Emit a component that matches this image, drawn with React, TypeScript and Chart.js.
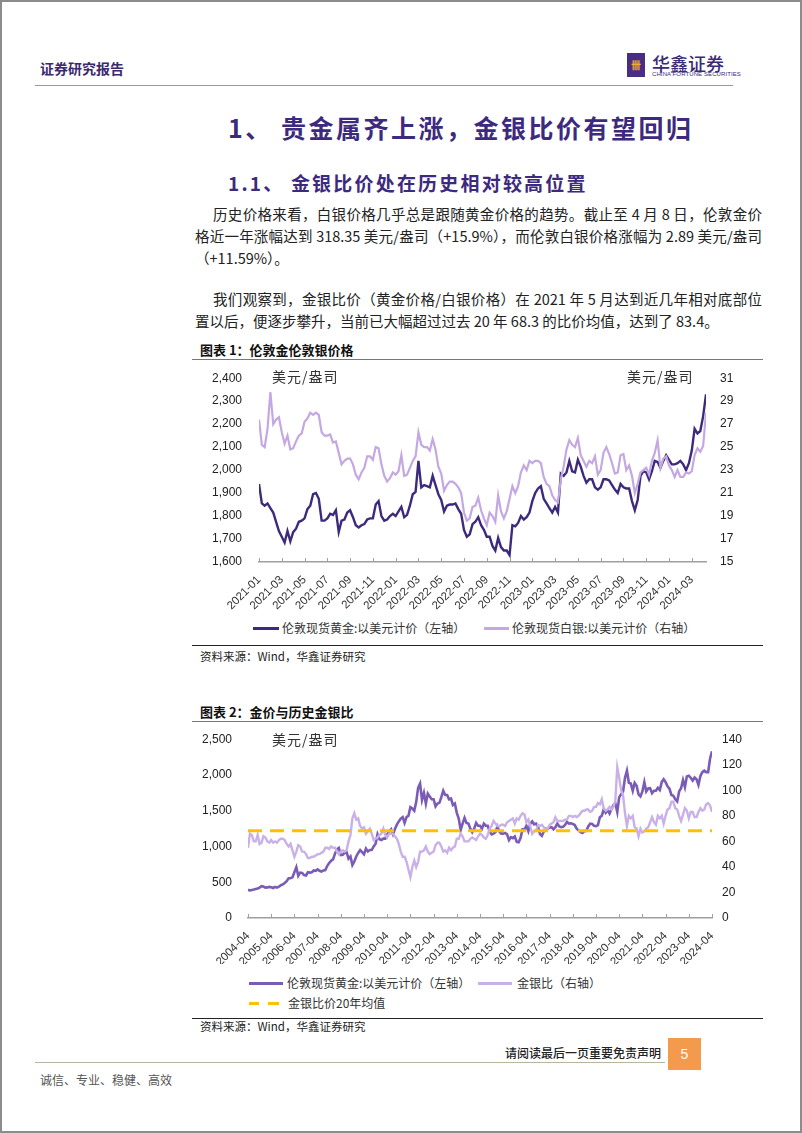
import React, { useEffect, useRef } from 'react';
import { Chart, registerables } from 'chart.js';
Chart.register(...registerables);

const CJK = '"Noto Sans CJK SC", "Noto Sans", sans-serif';
const LATIN = '"Liberation Sans", Arial, sans-serif';

// ---------- Chart 1: weekly (4 per month), 2021-01 .. 2024-04-08 ----------
const X1_TICKS = ['2021-01', '2021-03', '2021-05', '2021-07', '2021-09', '2021-11', '2022-01', '2022-03', '2022-05', '2022-07', '2022-09', '2022-11', '2023-01', '2023-03', '2023-05', '2023-07', '2023-09', '2023-11', '2024-01', '2024-03'];
const GOLD_W = [
  1940, 1855, 1845, 1855, 1835, 1815, 1775, 1735, 1710, 1685, 1735, 1690,
  1730, 1745, 1775, 1780, 1790, 1830, 1845, 1895, 1900, 1875, 1780, 1780,
  1790, 1810, 1805, 1825, 1730, 1780, 1785, 1815, 1825, 1795, 1760, 1750,
  1760, 1765, 1785, 1790, 1790, 1850, 1865, 1800, 1780, 1785, 1800, 1810,
  1800, 1820, 1840, 1795, 1805, 1845, 1895, 1905, 2040, 1925, 1935, 1930,
  1925, 1975, 1935, 1895, 1870, 1820, 1845, 1850, 1850, 1855, 1830, 1810,
  1740, 1710, 1720, 1765, 1775, 1795, 1760, 1740, 1710, 1710, 1670, 1650,
  1705, 1665, 1650, 1650, 1630, 1760, 1755, 1770, 1800, 1785, 1795, 1815,
  1865, 1900, 1920, 1930, 1875, 1855, 1835, 1815, 1840, 1815, 1985, 1975,
  1990, 2040, 1995, 1990, 2045, 2015, 1975, 1945, 1960, 1960, 1925, 1915,
  1925, 1960, 1960, 1955, 1935, 1915, 1900, 1940, 1925, 1920, 1920, 1865,
  1825, 1870, 1975, 1995, 1990, 1960, 1995, 2040, 2035, 2010, 2040, 2065,
  2045, 2025, 2025, 2030, 2040, 2025, 2000, 2030, 2085, 2180, 2160, 2170,
  2235, 2330,
];
const SILVER_W = [
  27.4, 25.2, 25.0, 26.6, 29.8, 27.0, 27.4, 27.6, 26.3, 25.3, 26.0, 24.8,
  24.9, 25.5, 26.0, 26.2, 27.2, 27.5, 28.0, 27.8, 28.0, 27.8, 26.3, 26.0,
  26.0, 26.1, 25.4, 25.5, 24.5, 23.5, 23.8, 24.0, 24.0, 23.5, 22.6, 22.2,
  22.8, 23.2, 24.2, 24.2, 23.9, 25.0, 24.9, 23.5, 22.5, 22.0, 22.3, 22.8,
  22.6, 22.9, 24.3, 22.5, 22.6, 23.2, 23.8, 24.2, 26.3, 25.2, 25.0, 25.0,
  24.7, 25.7, 24.8, 23.3, 22.7, 21.2, 21.7, 22.0, 22.0, 21.8, 21.5, 21.0,
  19.3, 18.6, 18.8, 19.8, 19.9, 20.6, 19.5, 18.8, 18.2, 19.3, 19.0, 18.5,
  20.8, 19.4, 18.8, 19.4, 20.5, 21.6, 21.0, 21.6, 22.8, 23.4, 23.0, 23.8,
  23.6, 23.8, 23.8, 23.6, 22.4, 21.8, 21.6, 20.8, 20.4, 20.2, 22.2, 23.3,
  24.8, 25.6, 25.2, 25.0, 25.8, 24.3, 23.8, 23.3, 23.8, 23.6, 24.2, 22.6,
  23.0, 24.5, 25.0, 24.4, 23.6, 22.7, 22.8, 24.3, 24.4, 23.0, 23.4, 22.5,
  21.0, 21.8, 22.8, 23.0, 23.2, 22.6, 23.8, 24.5, 25.6, 23.2, 24.0, 24.2,
  23.4, 23.0, 22.4, 23.0, 22.4, 22.4, 22.8, 22.7, 22.9, 24.3, 24.9, 24.6,
  25.1, 28.0,
];

// ---------- Chart 2: monthly, 2004-04 .. 2024-04 ----------
const X2_TICKS = ['2004-04', '2005-04', '2006-04', '2007-04', '2008-04', '2009-04', '2010-04', '2011-04', '2012-04', '2013-04', '2014-04', '2015-04', '2016-04', '2017-04', '2018-04', '2019-04', '2020-04', '2021-04', '2022-04', '2023-04', '2024-04'];
const GOLD_M = [
  395, 385, 392, 398, 405, 412, 425, 445, 440,
  425, 428, 435, 430, 420, 435, 425, 438, 458, 470, 490, 515,
  555, 555, 570, 640, 710, 590, 635, 630, 600, 595, 640, 635,
  640, 665, 660, 680, 660, 650, 665, 670, 730, 770, 800, 820,
  900, 960, 980, 880, 885, 910, 920, 830, 860, 740, 790, 860,
  910, 950, 920, 890, 970, 930, 950, 950, 1000, 1040, 1170, 1100,
  1090, 1110, 1110, 1170, 1210, 1240, 1170, 1245, 1305, 1350, 1390, 1410,
  1330, 1410, 1430, 1550, 1530, 1500, 1620, 1820, 1880, 1650, 1750, 1600,
  1740, 1700, 1660, 1660, 1560, 1600, 1610, 1690, 1780, 1720, 1720, 1660,
  1670, 1580, 1600, 1470, 1390, 1230, 1320, 1400, 1330, 1320, 1250, 1200,
  1250, 1330, 1290, 1290, 1250, 1320, 1290, 1290, 1210, 1170, 1180, 1200,
  1280, 1210, 1180, 1180, 1190, 1170, 1090, 1130, 1115, 1140, 1065, 1060,
  1120, 1240, 1235, 1290, 1215, 1320, 1350, 1310, 1320, 1275, 1175, 1150,
  1210, 1250, 1245, 1265, 1270, 1240, 1270, 1320, 1280, 1270, 1275, 1300,
  1345, 1320, 1325, 1315, 1300, 1250, 1225, 1200, 1190, 1215, 1220, 1280,
  1320, 1315, 1290, 1285, 1300, 1410, 1430, 1520, 1470, 1510, 1460, 1520,
  1580, 1600, 1480, 1690, 1730, 1770, 1960, 2060, 1890, 1880, 1780, 1890,
  1850, 1730, 1700, 1770, 1900, 1770, 1810, 1815, 1745, 1780, 1780, 1820,
  1790, 1900, 1940, 1900, 1840, 1810, 1720, 1710, 1660, 1630, 1770, 1815,
  1930, 1830, 1980, 1990, 1960, 1920, 1965, 1940, 1860, 1985, 2040, 2060,
  2040, 2040, 2230, 2330,
];
const RATIO_M = [
  55, 66, 65, 60, 60, 65, 58, 59, 64,
  63, 60, 59, 61, 59, 60, 59, 61, 62, 62, 61, 58,
  56, 58, 53, 48, 52, 57, 56, 52, 52, 50, 47, 47,
  48, 48, 49, 50, 50, 51, 52, 55, 55, 54, 56, 55,
  55, 52, 50, 52, 53, 52, 53, 60, 65, 78, 82, 77,
  78, 72, 70, 71, 66, 68, 70, 66, 61, 62, 63, 65,
  66, 70, 65, 63, 66, 66, 66, 64, 62, 58, 52, 48,
  48, 44, 38, 32, 40, 45, 40, 44, 52, 52, 53, 56,
  52, 50, 51, 52, 57, 59, 59, 56, 52, 53, 51, 55,
  53, 55, 56, 62, 62, 66, 64, 60, 60, 60, 62, 63,
  62, 61, 64, 66, 65, 63, 62, 65, 70, 72, 76, 74,
  72, 72, 73, 73, 72, 75, 76, 77, 78, 74, 78, 77,
  80, 82, 81, 75, 77, 72, 66, 68, 68, 73, 72, 73,
  71, 69, 70, 73, 74, 75, 79, 76, 76, 76, 76, 77,
  77, 80, 80, 79, 80, 79, 80, 82, 84, 84, 85, 85,
  83, 84, 87, 87, 90, 89, 93, 86, 84, 85, 87, 85,
  87, 92, 118, 110, 100, 96, 82, 72, 80, 78, 80, 71,
  70, 64, 70, 67, 68, 70, 71, 75, 79, 75, 73, 80,
  78, 80, 74, 80, 85, 86, 91, 91, 86, 85, 80, 76,
  81, 86, 84, 78, 83, 83, 79, 79, 83, 86, 84, 85,
  89, 90, 88, 83,
];
const RATIO_AVG = 68.3;

const C1_GOLD = '#3E2A7C';
const C1_SILVER = '#C4A8E2';
const C2_GOLD = '#7A5CB6';
const C2_RATIO = '#C9B0E7';
const C2_AVG = '#FFC000';

const fmt = (v: number) => Number(v).toLocaleString('en-US');

// small tick marks drawn upward from the x axis line
const innerTicks = {
  id: 'innerTicks',
  afterDraw(chart: any) {
    const s = chart.scales.x;
    const ctx = chart.ctx;
    ctx.save();
    ctx.strokeStyle = '#a0a0a0';
    ctx.lineWidth = 1;
    s.ticks.forEach((t: any) => {
      const px = Math.round(s.getPixelForValue(t.value)) + 0.5;
      ctx.beginPath();
      ctx.moveTo(px, s.top);
      ctx.lineTo(px, s.top - 4);
      ctx.stroke();
    });
    ctx.restore();
  },
};

function makeAxisX(min: number, max: number, step: number, labels: string[], h: number) {
  return {
    type: 'linear', min, max,
    afterFit: (s: any) => { s.height = h; },
    ticks: {
      stepSize: step, includeBounds: false, autoSkip: false, maxRotation: 45, minRotation: 45,
      font: { size: 11.5, family: LATIN }, color: '#333', padding: 3,
      callback: (v: number) => labels[Math.round(v / step)] ?? '',
    },
    grid: { display: false },
    border: { display: true, color: '#a0a0a0', width: 1.5 },
  };
}

function makeAxisY(pos: string, min: number, max: number, step: number, w: number, pad: number, comma: boolean) {
  return {
    position: pos, min, max,
    afterFit: (s: any) => { s.width = w; },
    ticks: { stepSize: step, padding: pad, font: { size: 12, family: LATIN }, color: '#222', callback: (v: number) => (comma ? fmt(v) : String(v)) },
    grid: { display: false },
    border: { display: false },
  };
}

const T = ({ x, y, s, c = '#222', w = 400, ls = 0, f = CJK, children }: any) => (
  <div style={{ position: 'absolute', left: x, top: y - s * 0.75, fontSize: s, lineHeight: `${s * 1.5}px`, color: c, fontWeight: w, letterSpacing: ls, fontFamily: f, whiteSpace: 'nowrap' }}>{children}</div>
);
const J = ({ x, y, r = 762, s = 14.5, children }: any) => (
  <div style={{ position: 'absolute', left: x, top: y - s * 0.75, width: r - x, fontSize: s, lineHeight: `${s * 1.5}px`, color: '#222', fontFamily: CJK, textAlign: 'justify', textAlignLast: 'justify' as any, height: s * 1.5, overflow: 'visible' }}>{children}</div>
);
const Box = ({ x, y, w, h, c }: any) => (
  <div style={{ position: 'absolute', left: x, top: y, width: w, height: h, background: c }} />
);

export default function App() {
  const c1 = useRef<HTMLCanvasElement>(null);
  const c2 = useRef<HTMLCanvasElement>(null);

  useEffect(() => {
    const ch1 = new Chart(c1.current!, {
      type: 'line',
      data: {
        datasets: [
          { label: '伦敦现货白银:以美元计价（右轴）', data: SILVER_W.map((y, i) => ({ x: i * 0.25, y })), borderColor: C1_SILVER, borderWidth: 2.2, yAxisID: 'y1', order: 1 },
          { label: '伦敦现货黄金:以美元计价（左轴）', data: GOLD_W.map((y, i) => ({ x: i * 0.25, y })), borderColor: C1_GOLD, borderWidth: 2.4, yAxisID: 'y', order: 2 },
        ],
      },
      options: {
        animation: false, responsive: false, maintainAspectRatio: false,
        layout: { padding: { top: 12, left: 0, right: 0, bottom: 0 } },
        plugins: { legend: { display: false }, tooltip: { enabled: false } },
        elements: { point: { radius: 0 }, line: { tension: 0 } },
        scales: {
          x: makeAxisX(0, 39.25, 2, X1_TICKS, 48) as any,
          y: makeAxisY('left', 1600, 2400, 100, 67, 9, true) as any,
          y1: makeAxisY('right', 15, 31, 2, 57, 6, false) as any,
        },
      } as any,
      plugins: [innerTicks],
    });
    const ch2 = new Chart(c2.current!, {
      type: 'line',
      data: {
        datasets: [
          { label: '金银比价20年均值', data: [{ x: 0, y: RATIO_AVG }, { x: 240, y: RATIO_AVG }], borderColor: C2_AVG, borderWidth: 3, borderDash: [14, 8], yAxisID: 'y1', order: 0 },
          { label: '金银比（右轴）', data: RATIO_M.map((y, i) => ({ x: i, y })), borderColor: C2_RATIO, borderWidth: 2.4, yAxisID: 'y1', order: 1 },
          { label: '伦敦现货黄金:以美元计价（左轴）', data: GOLD_M.map((y, i) => ({ x: i, y })), borderColor: C2_GOLD, borderWidth: 2.6, yAxisID: 'y', order: 2 },
        ],
      },
      options: {
        animation: false, responsive: false, maintainAspectRatio: false,
        layout: { padding: { top: 13, left: 0, right: 0, bottom: 0 } },
        plugins: { legend: { display: false }, tooltip: { enabled: false } },
        elements: { point: { radius: 0 }, line: { tension: 0 } },
        scales: {
          x: makeAxisX(0, 240, 12, X2_TICKS, 46) as any,
          y: makeAxisY('left', 0, 2500, 500, 56, 8, true) as any,
          y1: makeAxisY('right', 0, 140, 20, 51, 2, false) as any,
        },
      } as any,
      plugins: [innerTicks],
    });
    return () => { ch1.destroy(); ch2.destroy(); };
  }, []);

  return (
    <div style={{ position: 'absolute', left: 0, top: 0, width: 802, height: 1133, background: '#fff', fontFamily: CJK, overflow: 'hidden' }}>
      <div style={{ position: 'absolute', left: 0, top: 0, width: 802, height: 1133, border: '2px solid #8c8c8c', boxSizing: 'border-box' }} />

      {/* header */}
      <T x={40} y={68} s={14} c="#3B2A6E" w={700}>证券研究报告</T>
      <div style={{ position: 'absolute', left: 627, top: 53, width: 18, height: 24, background: '#4A2C85', color: '#F4A93A', fontSize: 10, lineHeight: '24px', textAlign: 'center', fontWeight: 700 }}>卌</div>
      <T x={652} y={63} s={18} c="#3B2A78" w={500}>华鑫证券</T>
      <div style={{ position: 'absolute', left: 652, top: 71, fontSize: 6, lineHeight: '7px', color: '#3B2A78', fontFamily: LATIN, whiteSpace: 'nowrap', letterSpacing: 0.1 }}>CHINA FORTUNE SECURITIES</div>
      <Box x={35} y={85} w={698} h={1} c="#9a9a9a" />

      {/* titles */}
      <T x={228} y={128} s={25} c="#3D2A7E" w={700} ls={2.5}>1、 贵金属齐上涨，金银比价有望回归</T>
      <T x={228} y={183} s={19} c="#3D2A7E" w={700} ls={2.2}>1.1、 金银比价处在历史相对较高位置</T>

      {/* paragraphs */}
      <J x={213} y={214}>历史价格来看，白银价格几乎总是跟随黄金价格的趋势。截止至 4 月 8 日，伦敦金价</J>
      <J x={195} y={236}>格近一年涨幅达到 318.35 美元/盎司（+15.9%），而伦敦白银价格涨幅为 2.89 美元/盎司</J>
      <T x={195} y={258} s={14.5}>（+11.59%）。</T>
      <J x={213} y={299}>我们观察到，金银比价（黄金价格/白银价格）在 2021 年 5 月达到近几年相对底部位</J>
      <T x={195} y={321} s={14.5}>置以后，便逐步攀升，当前已大幅超过过去 20 年 68.3 的比价均值，达到了 83.4。</T>

      {/* chart 1 */}
      <T x={200} y={350} s={13} c="#111" w={700}>图表 1：伦敦金伦敦银价格</T>
      <Box x={192} y={359} w={571} h={1} c="#777" />
      <canvas ref={c1} width={571} height={248} style={{ position: 'absolute', left: 192, top: 362, width: 571, height: 248 }} />
      <T x={272} y={376} s={14} c="#333" ls={1}>美元/盎司</T>
      <T x={627} y={376} s={14} c="#333" ls={1}>美元/盎司</T>
      <Box x={253} y={627} w={26} h={2.5} c={C1_GOLD} />
      <T x={282} y={628} s={12} c="#333">伦敦现货黄金:以美元计价（左轴）</T>
      <Box x={484} y={627} w={25} h={2.5} c={C1_SILVER} />
      <T x={512} y={628} s={12} c="#333">伦敦现货白银:以美元计价（右轴）</T>
      <Box x={192} y={645} w={571} h={1} c="#222" />
      <T x={200} y={657} s={11.5} c="#222">资料来源：Wind，华鑫证券研究</T>

      {/* chart 2 */}
      <T x={200} y={712} s={13} c="#111" w={700}>图表 2：金价与历史金银比</T>
      <Box x={192} y={721} w={571} h={1} c="#777" />
      <canvas ref={c2} width={571} height={240} style={{ position: 'absolute', left: 192, top: 724, width: 571, height: 240 }} />
      <T x={272} y={739} s={14} c="#333" ls={1}>美元/盎司</T>
      <Box x={249} y={982} w={34} h={2.5} c={C2_GOLD} />
      <T x={287} y={983} s={12} c="#333">伦敦现货黄金:以美元计价（左轴）</T>
      <Box x={478} y={982} w={34} h={2.5} c={C2_RATIO} />
      <T x={517} y={983} s={12} c="#333">金银比（右轴）</T>
      <Box x={249} y={1002} w={10} h={3} c={C2_AVG} />
      <Box x={268} y={1002} w={11} h={3} c={C2_AVG} />
      <T x={288} y={1003} s={12} c="#333">金银比价20年均值</T>
      <Box x={192} y={1018} w={571} h={1} c="#222" />
      <T x={200} y={1027} s={11.5} c="#222">资料来源：Wind，华鑫证券研究</T>

      {/* footer */}
      <T x={505} y={1053} s={12} c="#222" w={500}>请阅读最后一页重要免责声明</T>
      <Box x={35} y={1062} w={630} h={1} c="#b8b4a0" />
      <div style={{ position: 'absolute', left: 668, top: 1038, width: 33, height: 32, background: '#F39A4C', color: '#fff', fontSize: 14, lineHeight: '32px', textAlign: 'center', fontFamily: LATIN }}>5</div>
      <T x={40} y={1080} s={12} c="#555">诚信、专业、稳健、高效</T>
    </div>
  );
}
